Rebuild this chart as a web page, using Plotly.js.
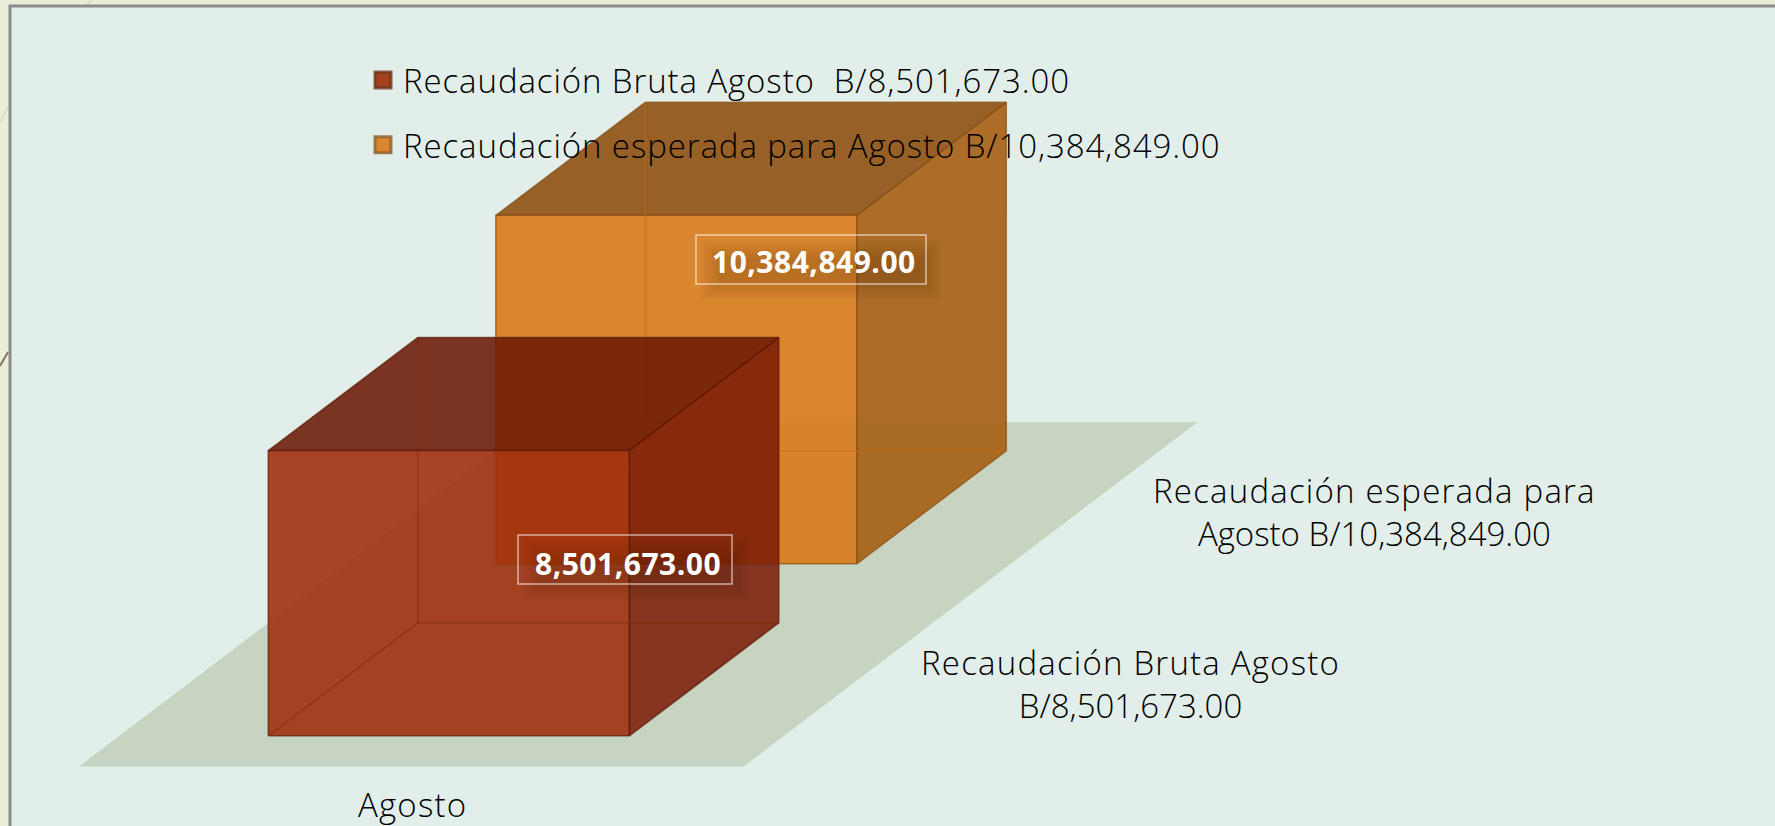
<!DOCTYPE html>
<html><head><meta charset="utf-8">
<script src="https://cdn.plot.ly/plotly-3.0.1.min.js"></script>
<style>html,body{margin:0;padding:0;background:#ebeed8}#c{width:1775px;height:826px}
.legendtext{letter-spacing:.9px}
.annotation-text{letter-spacing:1.2px}
.annotation-text[style*="font-weight: 700"]{letter-spacing:.5px}
</style>
</head><body><div id="c"></div>
<script>
// ---- data ----
const category = 'Agosto';
const seriesNames = ['Recaudación Bruta Agosto\u00a0 B/8,501,673.00', 'Recaudación esperada para Agosto B/10,384,849.00'];
const sideLabelLines = [['Recaudación Bruta Agosto', 'B/8,501,673.00'], ['Recaudación esperada para', 'Agosto B/10,384,849.00']];
const seriesValues = [8501673, 10384849];
const valueLabels = ['8,501,673.00', '10,384,849.00'];
// ---- styles ----
const faceFront = ['#9e2b0c', '#d87714'];
const faceTop = ['#6b1905', '#8b4b09'];
const faceRight = ['#7b1d07', '#a55a0c'];
const edge = ['rgba(90,25,5,0.7)', 'rgba(130,75,15,0.65)'];
const inner = ['rgba(125,40,10,0.5)', 'rgba(190,105,20,0.5)'];
const swatch = ['#a3401f', '#d9862f'];
const swatchLine = ['rgba(110,50,35,0.8)', 'rgba(140,95,45,0.8)'];
const FONT = '"Open Sans", Lato, sans-serif';
// ---- projection of the 3D scene onto the page ----
const pxPerUnit = 285.3 / seriesValues[0];
const boxW = 361, depthX = 149.5, depthY = -113;
const origins = [[268.3, 735.8], [495.8, 563.8]];
function P(o, w, h, d) { return [o[0] + w * boxW + d * depthX, o[1] - h * pxPerUnit + d * depthY]; }
function face(pts, fill, line, name) {
  const c = pts.concat([pts[0]]);
  return { type: 'scatter', mode: 'lines', x: c.map(p => p[0]), y: c.map(p => p[1]), fill: 'toself', fillcolor: fill,
    line: { color: line, width: 1.5 }, hoverinfo: 'skip', showlegend: false, name: name };
}
function lines(pts, color) {
  return { type: 'scatter', mode: 'lines', x: pts.map(p => p[0]), y: pts.map(p => p[1]), line: { color: color, width: 1.5 }, hoverinfo: 'skip', showlegend: false };
}
function alpha(hex, a) {
  const n = parseInt(hex.slice(1), 16);
  return `rgba(${n >> 16},${(n >> 8) & 255},${n & 255},${a})`;
}
const traces = [];
const floorPts = [[79, 766.4], [743.8, 766.4], [1197.7, 422], [533, 422]];
traces.push(face(floorPts, '#c8d4c2', 'rgba(0,0,0,0)', 'floor'));
[1, 0].forEach(i => {
  const o = origins[i], v = seriesValues[i], a = 0.875;
  traces.push(face([P(o,0,v,0), P(o,1,v,0), P(o,1,v,1), P(o,0,v,1)], alpha(faceTop[i], a), edge[i], 'top'));
  traces.push(face([P(o,1,0,0), P(o,1,0,1), P(o,1,v,1), P(o,1,v,0)], alpha(faceRight[i], a), edge[i], 'right'));
  traces.push(face([P(o,0,0,0), P(o,1,0,0), P(o,1,v,0), P(o,0,v,0)], alpha(faceFront[i], a), edge[i], 'front'));
  traces.push(lines([P(o,0,v,1), P(o,0,0,1), P(o,1,0,1)], inner[i]));
  traces.push(lines([P(o,0,0,0), P(o,0,0,1)], inner[i]));
});
[0, 1].forEach(i => traces.push({ type: 'scatter', mode: 'markers', x: [null], y: [null], name: seriesNames[i], legendgroup: 'g' + i,
  marker: { symbol: 'square', size: 16, color: swatch[i], line: { color: swatchLine[i], width: 3 } }, hoverinfo: 'skip' }));

const labelBoxes = [[518, 535, 732, 584], [696, 235, 926, 284]];
const shapes = [];
shapes.push({ type: 'rect', layer: 'below', x0: 10, y0: 6, x1: 1800, y1: 860, fillcolor: '#e1eee9', line: { color: '#8c8c8c', width: 3 } });
shapes.push({ type: 'line', layer: 'below', x0: 0, y0: 366, x1: 8, y1: 352, line: { color: '#7d7a5f', width: 2 } });
shapes.push({ type: 'line', layer: 'below', x0: 0, y0: 122, x1: 8, y1: 107, line: { color: '#d6d8c4', width: 1.5 } });
shapes.push({ type: 'line', layer: 'below', x0: 87, y0: 4, x1: 92, y1: 0, line: { color: '#d6d8c4', width: 1.5 } });
labelBoxes.forEach(b => {
  [-9, -6, -3, 0, 3, 6, 9].forEach(g => {
    const x0 = b[0] + 14 - g, x1 = b[2] + 7 + g, y0 = b[1] + 14 - g, y1 = b[3] + 7 + g;
    shapes.push({ type: 'path', layer: 'above', path: `M${x0} ${y0}H${x1}V${y1}H${x0}Z`, fillcolor: 'rgba(50,20,0,0.032)', line: { width: 0 } });
  });
  shapes.push({ type: 'rect', layer: 'above', x0: b[0], y0: b[1], x1: b[2], y1: b[3], line: { color: 'rgba(255,255,255,0.6)', width: 1.5 } });
});
const TXT = { family: FONT, size: 33, color: '#000000', weight: 300 };
const LBL = { family: FONT, size: 30, color: '#ffffff', weight: 700 };
const note = (x, y, text, font) => ({ x, y, text, font, showarrow: false, xanchor: 'center', yanchor: 'middle' });
const sideText = l => `${l[0]}<br><span style="letter-spacing:0">${l[1]}</span>`;
const annotations = [
  note(412, 804, category, TXT),
  note(1130, 684, sideText(sideLabelLines[0]), TXT),
  note(1374, 512, sideText(sideLabelLines[1]), TXT),
  note(628, 563, valueLabels[0], LBL),
  note(814, 261, valueLabels[1], LBL)
];
const layout = {
  width: 1775, height: 826, margin: { l: 0, r: 0, t: 0, b: 0 }, autosize: false,
  paper_bgcolor: '#ebeed8', plot_bgcolor: 'rgba(0,0,0,0)', hovermode: false,
  xaxis: { range: [0, 1775], visible: false, fixedrange: true },
  yaxis: { range: [826, 0], visible: false, fixedrange: true },
  showlegend: true, shapes, annotations,
  legend: { x: 363 / 1775, y: 1 - 52 / 826, xanchor: 'left', yanchor: 'top', bgcolor: 'rgba(0,0,0,0)', font: TXT, tracegroupgap: 19, traceorder: 'grouped', itemclick: false, itemdoubleclick: false }
};
Plotly.newPlot('c', traces, layout, { displayModeBar: false });
</script></body></html>
